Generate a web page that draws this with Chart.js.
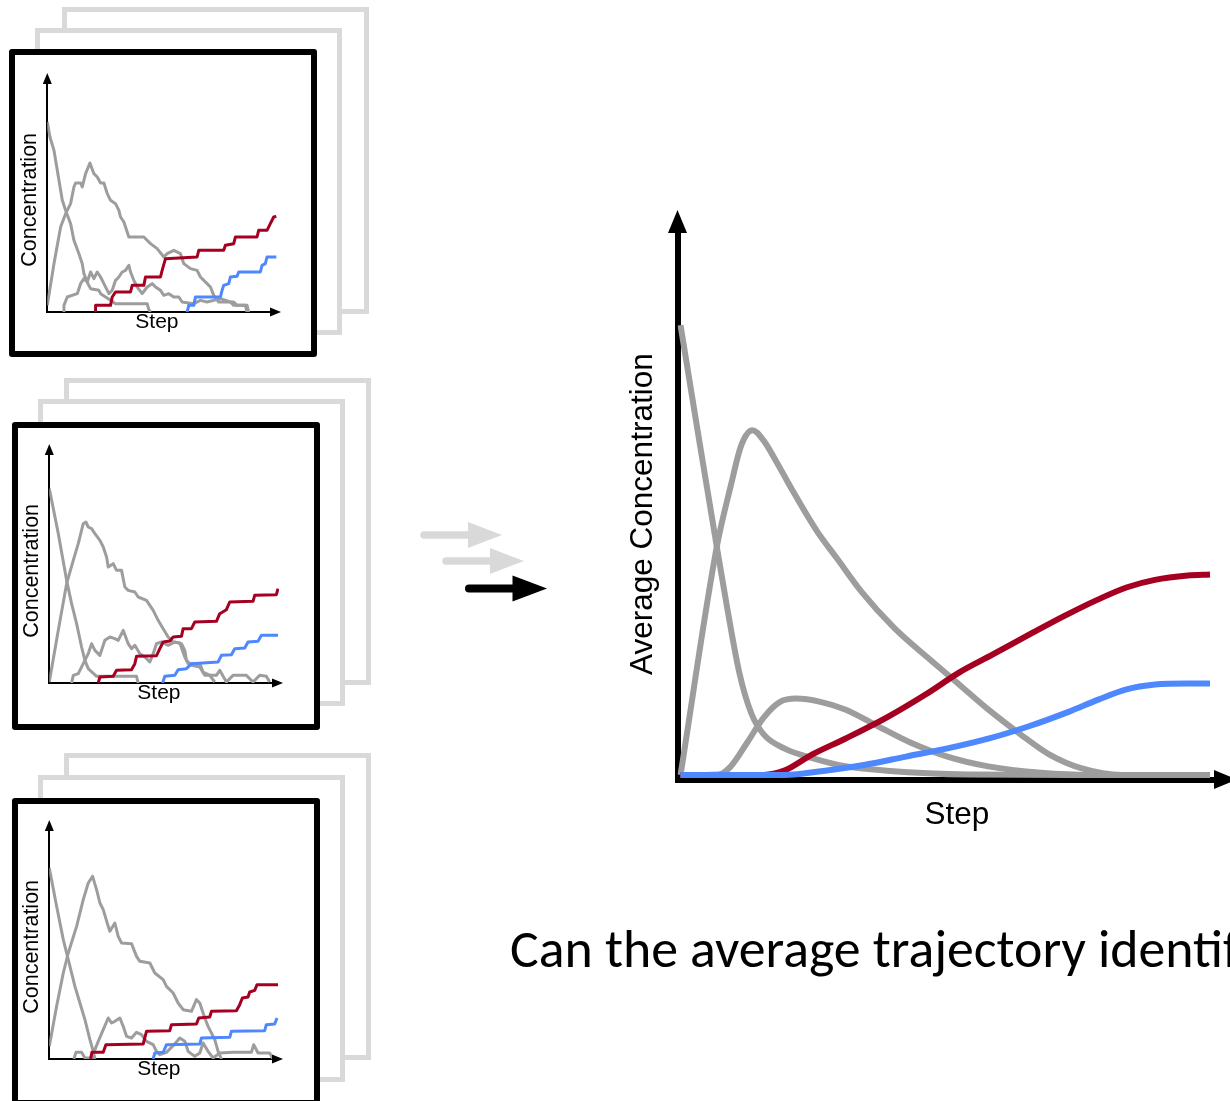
<!DOCTYPE html>
<html>
<head>
<meta charset="utf-8">
<script src="https://cdn.jsdelivr.net/npm/chart.js@4.4.1/dist/chart.umd.min.js"></script>
<style>
  html, body { margin: 0; padding: 0; background: #fff; width: 1230px; height: 1101px; overflow: hidden; }
  .card { position: absolute; box-sizing: border-box; background: #fff; }
  .card.back, .card.mid { border: 5px solid #d9d9d9; }
  .card.front { border: 6px solid #000; border-radius: 3px; }
  canvas { position: absolute; }
  #arrows { position: absolute; left: 0; top: 0; }
  #question {
    position: absolute; left: 510px; top: 922px;
    font-family: Carlito, "Open Sans", sans-serif; font-size: 53.8px; line-height: 1;
    white-space: nowrap; color: #000;
  }
</style>
</head>
<body>
<svg id="arrows" width="600" height="700">
  <g fill="#d9d9d9" stroke="#d9d9d9">
    <line x1="424" y1="535" x2="470" y2="535" stroke-width="7.5" stroke-linecap="round"/>
    <polygon points="468,522 502,535 468,548" stroke="none"/>
    <line x1="446" y1="561" x2="492" y2="561" stroke-width="7.5" stroke-linecap="round"/>
    <polygon points="490,548 524,561 490,574" stroke="none"/>
  </g>
  <g fill="#000" stroke="#000">
    <line x1="469" y1="588.5" x2="515" y2="588.5" stroke-width="8" stroke-linecap="round"/>
    <polygon points="512.5,575.5 547,588.5 512.5,601.5" stroke="none"/>
  </g>
</svg>
<div id="question">Can the average trajectory identify</div>

<script>
// ---- Single stochastic runs: [step, concentration] ----
// Run 1
const run1Product = [[145,0],[145,20],[190,20],[195,45],[205,60],[250,60],[255,80],[290,80],[295,105],[340,105],[345,125],[355,160],[450,165],[455,185],[530,185],[535,200],[560,205],[565,225],[630,225],[635,245],[660,245],[670,265],[680,285],[688,287]];
const run1Minor = [[420,0],[425,20],[440,20],[445,45],[520,45],[525,65],[530,80],[545,85],[550,105],[570,107],[575,120],[640,120],[645,140],[655,145],[660,165],[688,165]];
const run1Decay = [[0,570],[8,525],[20,485],[35,395],[45,335],[55,305],[70,265],[80,215],[95,175],[105,145],[110,115],[122,85],[130,70],[155,65],[160,55],[175,45],[190,35],[205,25],[300,25],[305,7],[310,0]];
const run1Peak = [[0,20],[20,145],[40,255],[55,295],[70,325],[80,375],[85,387],[100,387],[105,375],[115,415],[128,447],[140,415],[150,405],[160,387],[170,387],[180,355],[190,335],[205,325],[215,305],[220,285],[230,270],[245,225],[290,225],[310,205],[330,190],[350,165],[360,175],[380,185],[400,175],[410,145],[430,130],[450,125],[460,105],[480,85],[490,75],[500,50],[515,30],[560,30],[570,20],[600,20],[605,0]];
const run1Bump = [[50,0],[50,20],[60,45],[90,55],[100,85],[110,100],[120,90],[130,120],[140,100],[150,120],[160,105],[170,85],[185,55],[195,65],[205,95],[215,105],[225,120],[235,125],[245,140],[250,120],[260,95],[270,75],[285,55],[300,75],[315,85],[325,75],[340,65],[350,50],[365,55],[380,45],[395,45],[405,30],[440,25],[460,35],[480,30],[520,40],[550,30],[560,20],[595,20],[600,0]];

// Run 2
const run2Product = [[147,0],[152,18],[192,20],[202,38],[247,40],[257,58],[262,80],[322,82],[332,103],[342,123],[362,126],[372,138],[397,140],[402,163],[427,163],[437,183],[502,185],[512,208],[532,220],[542,243],[612,245],[617,263],[682,265],[687,283]];
const run2Minor = [[340,0],[347,20],[377,23],[387,40],[412,43],[427,58],[507,63],[517,83],[547,85],[557,103],[587,105],[597,123],[627,125],[637,143],[687,143]];
const run2Decay = [[0,583],[27,448],[52,308],[67,238],[82,178],[97,108],[107,68],[117,43],[142,20],[262,20],[267,0]];
const run2Peak = [[0,3],[27,158],[52,298],[72,368],[87,418],[102,478],[110,483],[117,468],[127,463],[137,448],[152,428],[162,408],[172,378],[177,348],[192,358],[202,338],[217,338],[227,288],[237,278],[257,273],[267,258],[292,248],[312,218],[327,188],[342,163],[357,138],[372,123],[392,120],[407,78],[417,58],[452,58],[462,33],[482,23],[497,3]];
const run2Bump = [[67,0],[72,23],[87,28],[102,58],[117,88],[127,118],[137,98],[152,83],[167,128],[182,138],[197,133],[207,128],[222,158],[237,118],[247,103],[257,113],[272,88],[287,78],[302,63],[312,88],[322,118],[337,123],[357,113],[377,123],[397,118],[407,98],[412,68],[427,53],[452,48],[467,23],[502,23],[512,38],[532,3],[552,23],[592,23],[612,3],[632,23],[652,20],[662,3]];

// Run 3
const run3Product = [[124,0],[128,20],[162,20],[170,43],[282,45],[292,83],[362,85],[367,103],[442,105],[449,123],[482,126],[487,143],[562,145],[572,163],[580,183],[597,186],[602,201],[617,206],[624,223],[687,223]];
const run3Minor = [[312,0],[317,18],[342,20],[352,43],[452,45],[457,63],[542,65],[547,83],[647,85],[652,103],[677,105],[684,123]];
const run3Decay = [[0,573],[22,458],[42,358],[57,298],[77,218],[92,168],[107,118],[122,58],[132,23],[137,0]];
const run3Peak = [[0,38],[22,158],[42,258],[57,318],[82,398],[102,478],[117,528],[130,548],[142,508],[152,468],[162,448],[177,398],[182,383],[197,408],[207,368],[217,348],[247,346],[262,308],[272,293],[302,288],[317,258],[342,238],[352,218],[372,198],[387,168],[402,148],[427,143],[442,178],[452,168],[467,123],[477,98],[497,58],[507,23],[517,0]];
const run3Bump = [[74,0],[80,20],[97,20],[107,3],[127,3],[137,28],[147,53],[162,88],[177,123],[187,108],[197,113],[212,123],[222,98],[232,68],[247,63],[262,80],[277,73],[292,53],[312,43],[322,23],[332,13],[352,20],[372,40],[392,63],[407,53],[417,23],[437,8],[452,18],[462,48],[477,23],[492,3],[512,18],[552,20],[607,20],[614,43],[627,18],[662,18],[672,0]];

// ---- Average over runs: [step, average concentration] ----
const avgDecay = [[0,83.0],[3.4,62.5],[6.85,42.1],[8.8,30.9],[11.1,18.9],[13.4,11.3],[15.7,7.5],[19.6,4.9],[24.9,3.1],[31.1,1.6],[38.9,0.8],[54.2,0.1],[77.4,0],[100,0]];
const avgPeak = [[0,0],[6.85,42.1],[9.5,53.4],[11.5,60.9],[13.6,63.6],[15.7,61.7],[18.0,58.0],[21.1,52.6],[25.7,45.1],[29.6,39.9],[34.2,33.8],[40.4,27.1],[46.5,21.8],[51.9,17.3],[58.1,12.1],[64.2,7.5],[69.6,3.8],[75.8,1.2],[83.4,0],[100,0]];
const avgBump = [[0,0],[7.2,0.1],[9.5,1.6],[12.6,6.0],[15.7,10.6],[18.8,13.5],[21.9,14.1],[26.4,13.5],[31.1,12.1],[37.3,9.0],[43.4,6.0],[50.4,3.4],[58.1,1.6],[68.1,0.4],[77.4,0],[100,0]];
const avgProduct = [[0,0],[15.7,0],[19.6,0.8],[24.9,3.8],[31.1,6.7],[38.9,10.6],[46.5,15.0],[52.6,18.9],[58.9,22.2],[66.6,26.3],[72.6,29.4],[78.9,32.4],[84.2,34.6],[89.6,36.0],[95.8,36.8],[100,37.0]];
const avgMinor = [[0,0],[19.6,0],[27.3,0.8],[34.9,1.9],[42.6,3.4],[50.4,4.9],[58.1,6.7],[65.8,9.0],[73.4,11.7],[78.9,13.9],[84.2,15.8],[89.6,16.7],[95.8,16.9],[100,16.9]];

const GRAY = '#9d9d9d', RED = '#a50021', BLUE = '#4d88ff';

// Arrowheads at the ends of both axes
const axisArrows = {
  id: 'axisArrows',
  afterDatasetsDraw(chart, args, o) {
    const {ctx, chartArea: a} = chart;
    ctx.save();
    ctx.fillStyle = '#000';
    const ty = a.top - o.over;
    ctx.beginPath();
    ctx.moveTo(a.left, ty);
    ctx.lineTo(a.left - o.half, ty + o.len);
    ctx.lineTo(a.left + o.half, ty + o.len);
    ctx.closePath();
    ctx.fill();
    const tx = a.right + o.over;
    ctx.beginPath();
    ctx.moveTo(tx, a.bottom);
    ctx.lineTo(tx - o.len, a.bottom - o.half);
    ctx.lineTo(tx - o.len, a.bottom + o.half);
    ctx.closePath();
    ctx.fill();
    ctx.restore();
  }
};

const pts = arr => arr.map(([x, y]) => ({x, y}));

function lineSet(arr, color, width, smooth) {
  return {
    data: pts(arr), borderColor: color, borderWidth: width, pointRadius: 0,
    fill: false, tension: 0, borderJoinStyle: 'round', borderCapStyle: 'butt',
    cubicInterpolationMode: smooth ? 'monotone' : 'default'
  };
}

function axis(min, max, title, size, pad, bw) {
  return {
    type: 'linear', min, max,
    grid: {display: false, drawTicks: false},
    ticks: {display: false},
    border: {display: true, color: '#000', width: bw},
    title: {display: true, text: title, color: '#000',
            font: {family: 'Liberation Sans', size, lineHeight: 1}, padding: pad}
  };
}

function makeCanvas(left, top, w, h) {
  const c = document.createElement('canvas');
  c.width = w; c.height = h;
  c.style.left = left + 'px'; c.style.top = top + 'px';
  document.body.appendChild(c);
  return c;
}

function makeCard(cls, x, y, b) {
  const d = document.createElement('div');
  d.className = 'card ' + cls;
  d.style.left = (x - b / 2) + 'px';
  d.style.top = (y - b / 2) + 'px';
  d.style.width = (302 + b) + 'px';
  d.style.height = (302 + b) + 'px';
  document.body.appendChild(d);
}

// Stacked panels of individual runs
const panels = [
  {front: [11.7, 52], mid: [37.5, 30.8], back: [64.2, 9.2], origin: [46.7, 311.7],
   runs: [run1Product, run1Minor, run1Decay, run1Peak, run1Bump]},
  {front: [14.5, 424.5], mid: [40, 401.8], back: [66.5, 380.8], origin: [49.3, 682.7],
   runs: [run2Product, run2Minor, run2Decay, run2Peak, run2Bump]},
  {front: [14.5, 800.8], mid: [40.5, 777.5], back: [66.5, 755.8], origin: [49.3, 1059.3],
   runs: [run3Product, run3Minor, run3Decay, run3Peak, run3Bump]}
];
const runColors = [RED, BLUE, GRAY, GRAY, GRAY];

panels.forEach(p => {
  makeCard('back', p.back[0], p.back[1], 5);
  makeCard('mid', p.mid[0], p.mid[1], 5);
  makeCard('front', p.front[0], p.front[1], 6);
  const [ox, oy] = p.origin;
  const cv = makeCanvas(ox - 40, oy - 250, 285, 281);
  new Chart(cv, {
    type: 'line',
    data: {datasets: p.runs.map((r, i) => lineSet(r, runColors[i], 3, false))},
    options: {
      responsive: false, animation: false, devicePixelRatio: 1,
      layout: {padding: {left: 12.8, top: 15, right: 15, bottom: 10}},
      plugins: {legend: {display: false}, tooltip: {enabled: false},
                axisArrows: {len: 11, half: 4.5, over: 4}},
      scales: {
        x: axis(0, 690, 'Step\u2002', 21, {top: 0, bottom: 0}, 2),
        y: axis(0, 705, 'Concentration\u2002', 21.5, {top: 0, bottom: 6}, 2)
      }
    },
    plugins: [axisArrows]
  });
});

// Average trajectory
const big = makeCanvas(600, 180, 660, 660);
new Chart(big, {
  type: 'line',
  data: {datasets: [
    lineSet(avgMinor, BLUE, 6, true),
    lineSet(avgProduct, RED, 6, true),
    lineSet(avgBump, GRAY, 6, true),
    lineSet(avgPeak, GRAY, 6, true),
    lineSet(avgDecay, GRAY, 6, true)
  ]},
  options: {
    responsive: false, animation: false, devicePixelRatio: 1,
    layout: {padding: {left: 27.5, top: 53, right: 46, bottom: 8.5}},
    plugins: {legend: {display: false}, tooltip: {enabled: false},
              axisArrows: {len: 23, half: 9.5, over: 23}},
    scales: {
      x: axis(-0.57, 100.75, '\u2002\u2009Step', 31.5, {top: 20.5, bottom: 0}, 6),
      y: axis(-0.83, 100, 'Average Concentration\u2002', 31.5, {top: 0, bottom: 18.5}, 6)
    }
  },
  plugins: [axisArrows]
});
</script>
</body>
</html>
